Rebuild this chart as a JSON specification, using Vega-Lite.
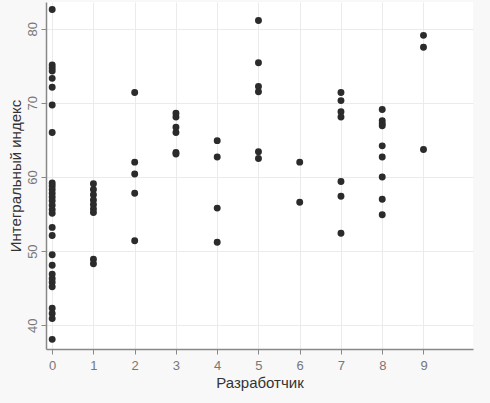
{
  "$schema": "https://vega.github.io/schema/vega-lite/v6.json",
  "autosize": "none",
  "padding": {"left": 46, "top": 2, "right": 17, "bottom": 54},
  "width": 427,
  "height": 347,
  "background": "#f8f8f8",
  "config": {
    "view": {"fill": "#ffffff", "stroke": null},
    "font": "Liberation Sans"
  },
  "data": {
    "values": [
      {"dev": 0, "index": 82.6}, {"dev": 0, "index": 75.1}, {"dev": 0, "index": 74.7}, {"dev": 0, "index": 74.3},
      {"dev": 0, "index": 73.3}, {"dev": 0, "index": 72.1}, {"dev": 0, "index": 69.7}, {"dev": 0, "index": 66.0},
      {"dev": 0, "index": 59.2}, {"dev": 0, "index": 58.8}, {"dev": 0, "index": 58.3}, {"dev": 0, "index": 57.8},
      {"dev": 0, "index": 57.3}, {"dev": 0, "index": 56.8}, {"dev": 0, "index": 56.2}, {"dev": 0, "index": 55.6},
      {"dev": 0, "index": 55.1}, {"dev": 0, "index": 53.2}, {"dev": 0, "index": 52.1}, {"dev": 0, "index": 49.5},
      {"dev": 0, "index": 48.1}, {"dev": 0, "index": 46.9}, {"dev": 0, "index": 46.3}, {"dev": 0, "index": 45.8},
      {"dev": 0, "index": 45.2}, {"dev": 0, "index": 42.3}, {"dev": 0, "index": 41.6}, {"dev": 0, "index": 40.9},
      {"dev": 0, "index": 38.1},
      {"dev": 1, "index": 59.1}, {"dev": 1, "index": 58.3}, {"dev": 1, "index": 57.6}, {"dev": 1, "index": 56.9},
      {"dev": 1, "index": 56.3}, {"dev": 1, "index": 55.7}, {"dev": 1, "index": 55.2}, {"dev": 1, "index": 48.9},
      {"dev": 1, "index": 48.3},
      {"dev": 2, "index": 71.4}, {"dev": 2, "index": 62.0}, {"dev": 2, "index": 60.4}, {"dev": 2, "index": 57.8},
      {"dev": 2, "index": 51.4},
      {"dev": 3, "index": 68.6}, {"dev": 3, "index": 68.1}, {"dev": 3, "index": 66.7}, {"dev": 3, "index": 66.0},
      {"dev": 3, "index": 63.3}, {"dev": 3, "index": 63.1},
      {"dev": 4, "index": 64.9}, {"dev": 4, "index": 62.7}, {"dev": 4, "index": 55.8}, {"dev": 4, "index": 51.2},
      {"dev": 5, "index": 81.1}, {"dev": 5, "index": 75.4}, {"dev": 5, "index": 72.2}, {"dev": 5, "index": 71.5},
      {"dev": 5, "index": 63.4}, {"dev": 5, "index": 62.5},
      {"dev": 6, "index": 62.0}, {"dev": 6, "index": 56.6},
      {"dev": 7, "index": 71.4}, {"dev": 7, "index": 70.3}, {"dev": 7, "index": 68.8}, {"dev": 7, "index": 68.1},
      {"dev": 7, "index": 59.4}, {"dev": 7, "index": 57.4}, {"dev": 7, "index": 52.4},
      {"dev": 8, "index": 69.1}, {"dev": 8, "index": 67.6}, {"dev": 8, "index": 67.2}, {"dev": 8, "index": 66.9},
      {"dev": 8, "index": 64.2}, {"dev": 8, "index": 62.7}, {"dev": 8, "index": 60.0}, {"dev": 8, "index": 57.0},
      {"dev": 8, "index": 54.9},
      {"dev": 9, "index": 79.1}, {"dev": 9, "index": 77.5}, {"dev": 9, "index": 63.7}
    ]
  },
  "mark": {"type": "circle", "size": 48, "color": "#2b2b2b", "opacity": 1},
  "encoding": {
    "x": {
      "field": "dev",
      "type": "quantitative",
      "title": "Разработчик",
      "scale": {"domain": [-0.15, 10.2], "nice": false, "zero": false},
      "axis": {
        "values": [0, 1, 2, 3, 4, 5, 6, 7, 8, 9],
        "format": "d",
        "grid": true,
        "gridColor": "#ebebeb",
        "domainColor": "#888888",
        "domainWidth": 1.5,
        "tickColor": "#888888",
        "tickSize": 5,
        "labelColor": "#777777",
        "labelFontSize": 13,
        "labelPadding": 5,
        "titleColor": "#333333",
        "titleFontSize": 15,
        "titleFontWeight": "normal",
        "titlePadding": 3
      }
    },
    "y": {
      "field": "index",
      "type": "quantitative",
      "title": "Интегральный индекс",
      "scale": {"domain": [36.8, 83.6], "nice": false, "zero": false},
      "axis": {
        "values": [40, 50, 60, 70, 80],
        "grid": true,
        "gridColor": "#ebebeb",
        "domainColor": "#888888",
        "domainWidth": 1.5,
        "tickColor": "#888888",
        "tickSize": 5,
        "labelColor": "#777777",
        "labelFontSize": 13,
        "labelAngle": -90,
        "labelAlign": "center",
        "labelBaseline": "bottom",
        "labelPadding": 2,
        "titleColor": "#333333",
        "titleFontSize": 15,
        "titleFontWeight": "normal",
        "titlePadding": 3
      }
    }
  }
}
